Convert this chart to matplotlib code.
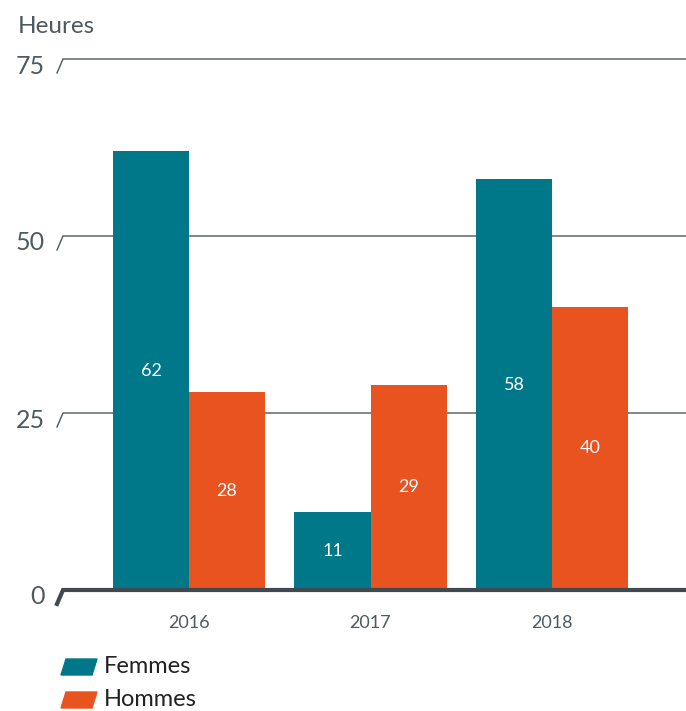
import matplotlib
matplotlib.use("Agg")
import numpy as np
import matplotlib.pyplot as plt
from matplotlib.patches import Polygon
from matplotlib.lines import Line2D
from matplotlib.transforms import blended_transform_factory

plt.rcParams.update({
    'font.family': ['Lato', 'DejaVu Sans'],
    'font.weight': 'normal',
})

years = ["2016", "2017", "2018"]
femmes = [62, 11, 58]
hommes = [28, 29, 40]
y_ticks = [0, 25, 50, 75]

TEAL = "#00788A"
ORANGE = "#E8531F"
GRID = "#4a5860"
TXT = "#4f5a60"

fig = plt.figure(figsize=(6.86, 7.11), dpi=100)
ax = fig.add_axes([63 / 686, 1 - 590 / 711, 623 / 686, 531 / 711])

x = np.arange(len(years))
w = 0.419
b1 = ax.bar(x - w / 2, femmes, w, color=TEAL, zorder=3)
b2 = ax.bar(x + w / 2, hommes, w, color=ORANGE, zorder=3)

for bars, vals in ((b1, femmes), (b2, hommes)):
    for r, v in zip(bars, vals):
        ax.text(r.get_x() + r.get_width() / 2, v / 2, str(v), ha="center", va="center",
                color="white", fontsize=13, zorder=4)

ax.set_xlim(-0.694, 2.738)
ax.set_ylim(0, 75)
for s in ax.spines.values():
    s.set_visible(False)
ax.set_yticks([])
ax.set_xticks(x)
ax.set_xticklabels(years, fontsize=13, color=TXT)
ax.tick_params(axis="x", length=0, pad=18)

# gridlines with the small slash at the left end
trans = blended_transform_factory(ax.transAxes, ax.transData)
dx = 6 / 623
dy = 14 / (531 / 75)
for t in y_ticks:
    lw = 3 if t == 0 else 1
    col = "#40494f" if t == 0 else GRID
    ax.add_line(Line2D([-dx, 0, 1], [t - dy, t, t], transform=trans, color=col, lw=lw,
                       clip_on=False, zorder=5 if t == 0 else 1,
                       solid_joinstyle="miter"))
    ax.annotate(str(t), xy=(0, t), xycoords=trans, xytext=(-18, -7), textcoords="offset pixels",
                ha="right", va="center", fontsize=18, color=TXT)

fig.text(18 / 686, 1 - 33 / 711, "Heures", fontsize=17.5, color=TXT, ha="left", va="baseline")

# legend with parallelogram swatches
for i, (lab, col) in enumerate((("Femmes", TEAL), ("Hommes", ORANGE))):
    yc = 667 + i * 33
    pts = [(61, yc + 8), (66, yc - 8), (97, yc - 8), (92, yc + 8)]
    fig.patches.append(Polygon([(px / 686, 1 - py / 711) for px, py in pts], closed=True,
                               transform=fig.transFigure, color=col))
    fig.text(104 / 686, 1 - (yc + 6) / 711, lab, fontsize=17, color="#222222",
             ha="left", va="baseline")

fig.savefig("out.png", dpi=100)
